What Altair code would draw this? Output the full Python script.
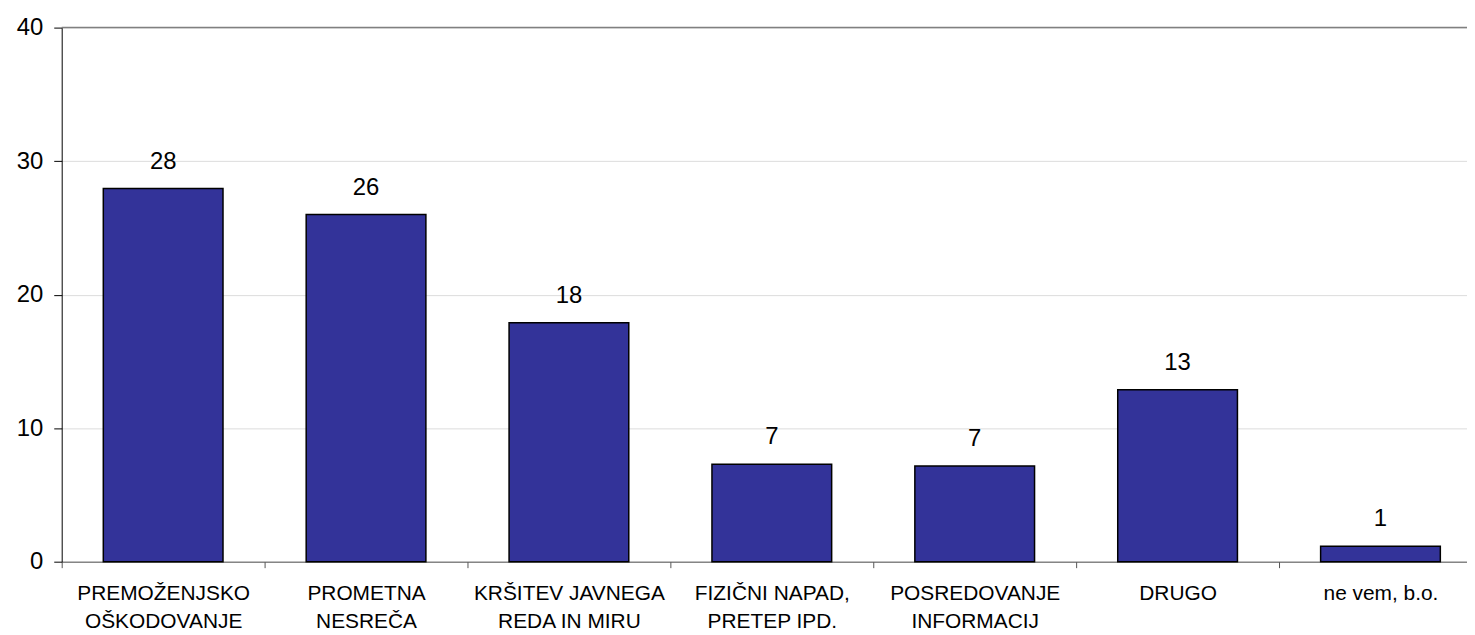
import altair as alt
import pandas as pd

categories = [
    "PREMOŽENJSKO|OŠKODOVANJE",
    "PROMETNA|NESREČA",
    "KRŠITEV JAVNEGA|REDA IN MIRU",
    "FIZIČNI NAPAD,|PRETEP IPD.",
    "POSREDOVANJE|INFORMACIJ",
    "DRUGO",
    "ne vem, b.o.",
]
values = [27.95, 26.0, 17.9, 7.3, 7.17, 12.87, 1.15]
value_labels = ["28", "26", "18", "7", "7", "13", "1"]
y_ticks = [0, 10, 20, 30, 40]

df = pd.DataFrame({"cat": categories, "val": values, "lab": value_labels})

W = 1413
H = 537
step = 204
XR = step * len(categories)

x_enc = alt.X(
    "cat:N",
    sort=categories,
    title=None,
    scale=alt.Scale(range=[0, XR], paddingInner=0.41, paddingOuter=0.205),
    axis=alt.Axis(
        labelExpr="split(datum.label, '|')",
        labelAngle=0,
        labelFont="Liberation Sans",
        labelFontSize=21,
        labelLineHeight=28.5,
        labelColor="black",
        labelPadding=15,
        labelBaseline="top",
        labelLimit=0,
        domainColor="#555555",
        tickColor="#555555",
        tickSize=6,
        tickOffset=-step / 2,
        labelOffset=step / 2,
        grid=False,
    ),
)
y_enc = alt.Y(
    "val:Q",
    title=None,
    scale=alt.Scale(domain=[0, 40], nice=False),
    axis=alt.Axis(
        values=y_ticks,
        grid=True,
        gridColor="#dcdcdc",
        domainColor="black",
        tickColor="black",
        tickSize=8,
        labelPadding=11,
        labelFont="Liberation Sans",
        labelFontSize=24,
        labelColor="black",
    ),
)

base = alt.Chart(df)
bars = base.mark_bar(color="#333399", stroke="black", strokeWidth=1.5).encode(x=x_enc, y=y_enc)
text = base.mark_text(
    font="Liberation Sans", fontSize=24, color="black", baseline="alphabetic", dy=-20
).encode(x=alt.X("cat:N", sort=categories), y="val:Q", text="lab:N")
top = alt.Chart(pd.DataFrame({"v": [40]})).mark_rule(color="#808080", strokeWidth=1.5).encode(y="v:Q")

chart = (
    alt.layer(bars, text, top)
    .properties(
        width=W,
        height=H,
        padding={"left": 54, "top": 18, "right": 0, "bottom": 70},
        autosize=alt.AutoSizeParams(type="none"),
    )
    .configure_view(stroke=None)
)

chart.save("out.html", embed_options={"renderer": "svg", "actions": False})
